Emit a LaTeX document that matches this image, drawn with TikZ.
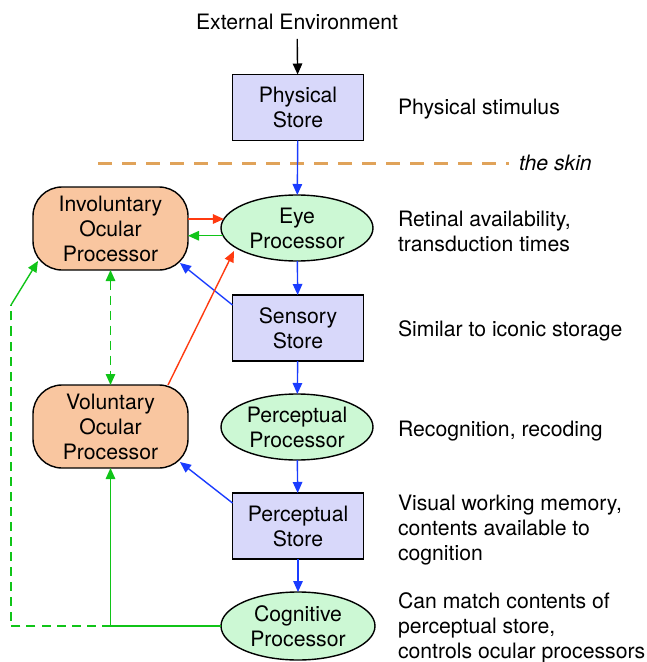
\documentclass[tikz,border=0pt]{standalone}
\usepackage{fontspec}
\setmainfont{TeX Gyre Heros}
\usetikzlibrary{arrows.meta,shapes.geometric}
\definecolor{boxfill}{HTML}{D8D8FA}
\definecolor{ellfill}{HTML}{CCF8D4}
\definecolor{ocfill}{HTML}{F9C6A0}
\definecolor{ablue}{HTML}{1A3CFF}
\definecolor{ared}{HTML}{FF3A10}
\definecolor{agreen}{HTML}{10C418}
\definecolor{skin}{HTML}{E0A35A}
\tikzset{
  every node/.style={font=\fontsize{21.2bp}{25bp}\selectfont, inner sep=0pt, outer sep=0pt},
  storebox/.style={draw, line width=1.4bp, fill=boxfill, minimum width=131bp, minimum height=66bp, align=center},
  procell/.style={draw, line width=1.4bp, fill=ellfill, ellipse, minimum width=152bp, minimum height=66bp, align=center},
  ocbox/.style={draw, line width=1.4bp, fill=ocfill, rounded corners=29bp, minimum width=155bp, minimum height=83bp, align=center},
  note/.style={anchor=west, align=left},
  tip/.style={-{Triangle[length=11bp,width=9.5bp]}},
  conn/.style={tip, line width=1.4bp},
  bluec/.style={conn, ablue},
  redc/.style={conn, ared},
  greenc/.style={conn, agreen},
}
\begin{document}
\begin{tikzpicture}[x=1bp, y=-1bp]
\useasboundingbox (0,0) rectangle (647,662);
\node (ext) at (297,22) {External Environment};
\node[storebox] (phys) at (298,107.5) {Physical\\Store};
\node[procell] (eye) at (297,228) {Eye\\Processor};
\node[ocbox] (invol) at (110.5,228.5) {Involuntary\\Ocular\\Processor};
\node[storebox] (sens) at (298,328) {Sensory\\Store};
\node[ocbox] (volun) at (110.5,426.5) {Voluntary\\Ocular\\Processor};
\node[procell] (perp) at (297,427) {Perceptual\\Processor};
\node[storebox] (pers) at (298,526) {Perceptual\\Store};
\node[procell, minimum width=154bp, minimum height=68bp] (cog) at (298,626) {Cognitive\\Processor};

\node[note] (n1) at (398,109.5) {Physical stimulus};
\node[note] (n2) at (398,231) {Retinal availability,\\transduction times};
\node[note] (n3) at (398,331) {Similar to iconic storage};
\node[note] (n4) at (398,431) {Recognition, recoding};
\node[note] (n5) at (398,530) {Visual working memory,\\contents available to\\cognition};
\node[note] (n6) at (398,628) {Can match contents of\\perceptual store,\\controls ocular processors};
\node[anchor=west, font=\fontsize{21.2bp}{25bp}\selectfont\itshape] (skintxt) at (519,163) {the skin};

\coordinate (skinL) at (98,163);
\draw[skin, line width=3bp, dash pattern=on 14bp off 10bp] (skinL) -- ([xshift=-10bp]skintxt.west |- skinL);

\draw[conn, black, shorten <=9bp] (ext) -- (phys);
\draw[bluec] (phys) -- (eye);
\draw[bluec] (eye) -- (sens);
\draw[bluec] (sens) -- (perp);
\draw[bluec] (perp) -- (pers);
\draw[bluec] (pers) -- (cog);

\draw[redc] (invol.east |- eye.173.5) -- (eye.173.5);
\draw[greenc] (eye.186.5) -- (invol.east |- eye.186.5);
\draw[bluec] ([yshift=-10bp]sens.north west) -- ([xshift=-8bp,yshift=7bp]invol.south east);
\draw[redc] ([xshift=-20bp]volun.north east) -- ([xshift=-63bp,yshift=-23bp]eye.center);
\draw[greenc, {Triangle[length=11bp,width=9.5bp]}-{Triangle[length=11bp,width=9.5bp]}, dash pattern=on 9bp off 6bp] (invol.south) -- (volun.north);
\draw[bluec] ([yshift=-10bp]pers.north west) -- ([xshift=-8bp,yshift=6bp]volun.south east);

\coordinate (j) at (volun.south |- cog.west);
\coordinate (c1) at (11,626);
\coordinate (c2) at (11,305);
\draw[greenc] (cog.west) -- (j) -- (volun.south);
\draw[agreen, line width=1.3bp, dash pattern=on 9bp off 6bp] (j) -- (c1) -- (c2);
\draw[greenc] (c2) -- ([xshift=5bp,yshift=9bp]invol.south west);
\end{tikzpicture}
\end{document}
